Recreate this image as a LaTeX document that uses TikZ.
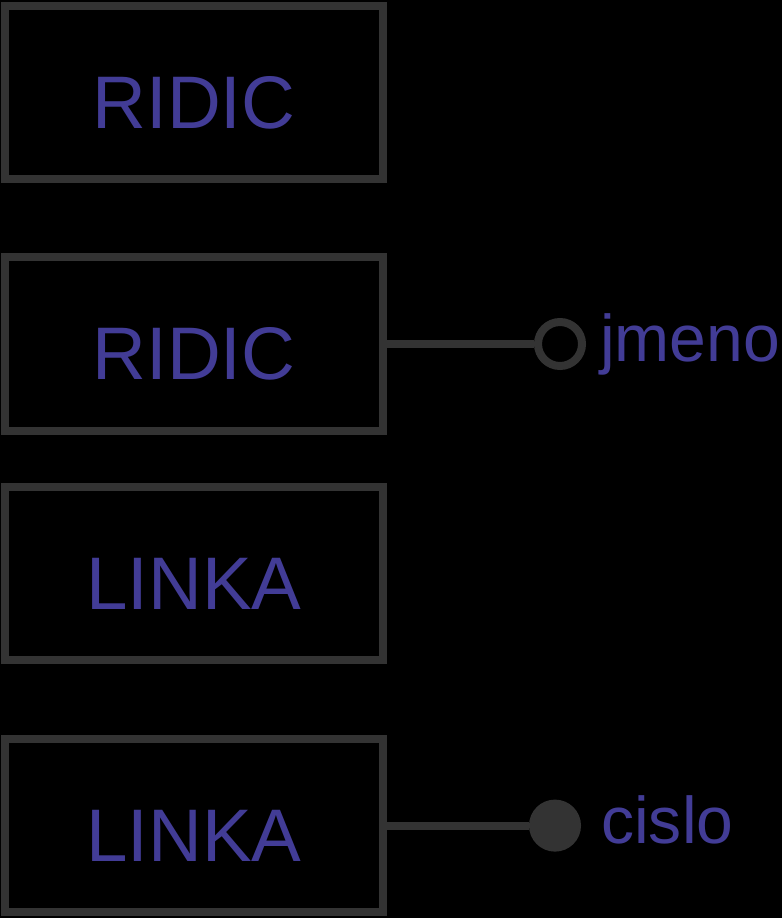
\documentclass[tikz,border=0pt]{standalone}
\usepackage{fontspec}
\setmainfont{Liberation Sans}
\usepackage{tikz}
\usetikzlibrary{positioning}
\definecolor{boxgray}{RGB}{51, 51, 51}
\definecolor{textblue}{RGB}{66, 60, 150}
\tikzset{
  entitybox/.style={rectangle, draw=boxgray, line width=0.2cm, minimum width=9.45cm, minimum height=4.33cm, text height=51pt, text depth=0pt, inner sep=0pt, text=textblue, font=\fontsize{53}{58}\selectfont},
  attrlink/.style={draw=boxgray, line width=0.2cm},
  attrcircle/.style={circle, draw=boxgray, line width=0.2cm, minimum size=1.1cm, inner sep=0pt},
  keycircle/.style={circle, draw=boxgray, fill=boxgray, line width=0.2cm, minimum size=1.1cm, inner sep=0pt},
  attrlabel/.style={inner sep=0pt, text=textblue, font=\fontsize{47}{52}\selectfont}
}
\begin{document}
\begin{tikzpicture}
    % background
    \fill[black] (0, 0) rectangle (19.55, -22.95);
    \useasboundingbox (0, 0) rectangle (19.55, -22.95);

    % Entities
    \node[entitybox] (RidicA) at (4.85, -2.31) {RIDIC};
    \node[entitybox] (RidicB) at (4.85, -8.60) {RIDIC};
    \node[entitybox] (LinkaA) at (4.85, -14.34) {LINKA};
    \node[entitybox] (LinkaB) at (4.85, -20.64) {LINKA};

    % Attributes
    \node[attrcircle] (Jmeno) at (14.0, -8.60) {};
    \node[attrlabel, right=0.35cm of Jmeno] (JmenoText) {jmeno};
    \draw[attrlink] (RidicB.east) -- (Jmeno.west);

    \node[keycircle] (Cislo) at (13.875, -20.64) {};
    \node[attrlabel, right=0.5cm of Cislo, yshift=0.14cm] (CisloText) {cislo};
    \draw[attrlink] (LinkaB.east) -- (Cislo.west);
\end{tikzpicture}
\end{document}
